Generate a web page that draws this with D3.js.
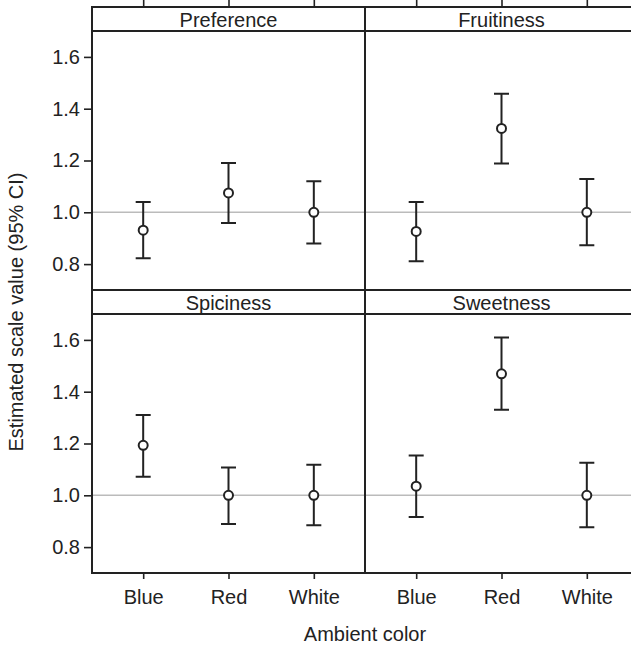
<!DOCTYPE html>
<html>
<head>
<meta charset="utf-8">
<script src="https://cdn.jsdelivr.net/npm/d3@7"></script>
<style>
  body { margin: 0; background: #fff; }
  svg { display: block; font-family: "Liberation Sans", Arial, sans-serif; }
  .axis text { font-size: 20px; fill: #222; }
  .axis path { display: none; }
  .axis line { stroke: #222; stroke-width: 1.6; }
</style>
</head>
<body>
<svg width="631" height="649"></svg>
<script>
var colors = ["Blue", "Red", "White"];
var panels = ["Preference", "Fruitiness", "Spiciness", "Sweetness"];
var yTicks = [0.8, 1.0, 1.2, 1.4, 1.6];

// estimate, lower and upper 95% CI, one array per panel (Blue, Red, White)
var estimate = {
  Preference: [0.931, 1.075, 1.000],
  Fruitiness: [0.926, 1.324, 1.000],
  Spiciness:  [1.193, 1.000, 1.000],
  Sweetness:  [1.035, 1.469, 1.000]
};
var lower = {
  Preference: [0.823, 0.959, 0.880],
  Fruitiness: [0.811, 1.188, 0.873],
  Spiciness:  [1.072, 0.889, 0.884],
  Sweetness:  [0.916, 1.330, 0.877]
};
var upper = {
  Preference: [1.040, 1.190, 1.120],
  Fruitiness: [1.040, 1.458, 1.129],
  Spiciness:  [1.310, 1.107, 1.118],
  Sweetness:  [1.154, 1.609, 1.126]
};

var svg = d3.select("svg"),
    left = 92, panelW = 273,
    topY = 7, stripH = 24, plotH = 259,
    ink = "#222";

var y0 = d3.scaleLinear().domain([0.7, 1.7]);

panels.forEach(function(name, i) {
  var col = i % 2, row = Math.floor(i / 2);
  var px = left + col * panelW,
      sy = topY + row * (stripH + plotH),
      py = sy + stripH;

  var x = d3.scalePoint().domain(colors).range([px, px + panelW]).padding(0.6);
  var y = y0.copy().range([py + plotH, py]);

  var g = svg.append("g");

  // strip
  g.append("rect")
      .attr("x", px).attr("y", sy)
      .attr("width", panelW).attr("height", stripH)
      .attr("fill", "#fff");
  g.append("text")
      .attr("x", px + panelW / 2)
      .attr("y", sy + 19.5)
      .attr("text-anchor", "middle")
      .attr("font-size", "20px")
      .attr("fill", ink)
      .text(name);

  // reference line at 1
  g.append("line")
      .attr("x1", px).attr("x2", px + panelW)
      .attr("y1", y(1)).attr("y2", y(1))
      .attr("stroke", "#bbb")
      .attr("stroke-width", 1.6);

  var rows = colors.map(function(c, j) {
    return {c: c, est: estimate[name][j], lo: lower[name][j], hi: upper[name][j]};
  });

  g.append("g")
      .attr("stroke", ink)
      .attr("stroke-width", 2)
      .attr("fill", "none")
    .selectAll("path")
      .data(rows)
    .enter().append("path")
      .attr("d", function(d) {
        var cx = x(d.c), w = 7.5;
        return "M" + (cx - w) + "," + y(d.hi) + "H" + (cx + w) +
               "M" + cx + "," + y(d.hi) + "V" + y(d.lo) +
               "M" + (cx - w) + "," + y(d.lo) + "H" + (cx + w);
      });

  g.append("g")
    .selectAll("circle")
      .data(rows)
    .enter().append("circle")
      .attr("cx", function(d) { return x(d.c); })
      .attr("cy", function(d) { return y(d.est); })
      .attr("r", 4.5)
      .attr("fill", "#fff")
      .attr("stroke", ink)
      .attr("stroke-width", 2);

  // borders
  g.append("rect")
      .attr("x", px).attr("y", sy)
      .attr("width", panelW).attr("height", stripH + plotH)
      .attr("fill", "none")
      .attr("stroke", ink)
      .attr("stroke-width", 2);
  g.append("line")
      .attr("x1", px).attr("x2", px + panelW)
      .attr("y1", py).attr("y2", py)
      .attr("stroke", ink)
      .attr("stroke-width", 2.2);

  if (col === 0) {
    g.append("g")
        .attr("class", "axis")
        .attr("transform", "translate(" + px + ",0)")
        .call(d3.axisLeft(y).tickValues(yTicks).tickFormat(d3.format(".1f")).tickSize(8).tickPadding(4));
  }
  if (row === 0) {
    g.append("g")
        .attr("class", "axis")
        .attr("transform", "translate(0," + sy + ")")
        .call(d3.axisTop(x).tickSize(7).tickFormat(""));
  }
  if (row === 1) {
    g.append("g")
        .attr("class", "axis")
        .attr("transform", "translate(0," + (py + plotH) + ")")
        .call(d3.axisBottom(x).tickSize(6).tickPadding(11));
  }
});

svg.append("text")
    .attr("transform", "translate(23,312) rotate(-90)")
    .attr("text-anchor", "middle")
    .attr("font-size", "20px")
    .attr("fill", ink)
    .text("Estimated scale value (95% CI)");

svg.append("text")
    .attr("x", left + panelW)
    .attr("y", 641)
    .attr("text-anchor", "middle")
    .attr("font-size", "20px")
    .attr("fill", ink)
    .text("Ambient color");
</script>
</body>
</html>
